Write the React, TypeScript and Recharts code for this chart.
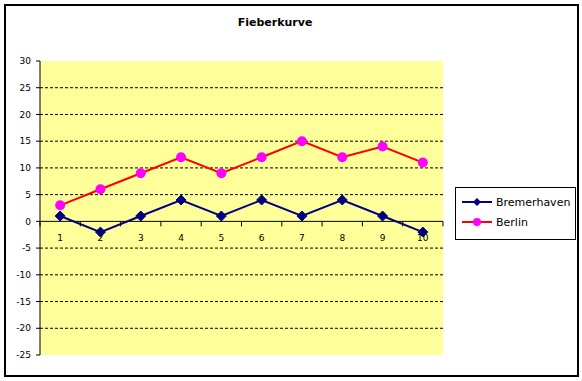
import React from "react";
import {
  LineChart,
  Line,
  XAxis,
  YAxis,
  CartesianGrid,
  ReferenceLine,
  Legend,
} from "recharts";

const categories = ["1", "2", "3", "4", "5", "6", "7", "8", "9", "10"];
const bremerhaven = [1, -2, 1, 4, 1, 4, 1, 4, 1, -2];
const berlin = [3, 6, 9, 12, 9, 12, 15, 12, 14, 11];
const yTicks = [-25, -20, -15, -10, -5, 0, 5, 10, 15, 20, 25, 30];
const gridValues = [-20, -15, -10, -5, 5, 10, 15, 20, 25];

const data = categories.map((c, i) => ({
  name: c,
  Bremerhaven: bremerhaven[i],
  Berlin: berlin[i],
}));

const W = 582;
const H = 381;
const M = { top: 61, right: 139, bottom: 0, left: 0 };
const X_AXIS_H = 26;
const Y_MIN = -25;
const Y_MAX = 30;
const plotH = H - M.top - M.bottom - X_AXIS_H;
// distance from bottom of plot to the value-0 line, where Excel puts the category axis
const zeroLift = ((0 - Y_MIN) / (Y_MAX - Y_MIN)) * plotH;

const font = "'DejaVu Sans', Verdana, sans-serif";

function XTick(props: any) {
  const { x, y, payload, index } = props;
  const half = payload.offset || 0;
  const zy = y - zeroLift;
  return (
    <g>
      <line x1={x - half} x2={x - half} y1={zy} y2={zy + 5} stroke="#000" />
      {index === categories.length - 1 && (
        <line x1={x + half} x2={x + half} y1={zy} y2={zy + 5} stroke="#000" />
      )}
      <text
        x={x}
        y={zy + 20}
        textAnchor="middle"
        fontSize={9}
        fontFamily={font}
        fill="#000"
      >
        {payload.value}
      </text>
    </g>
  );
}

function Diamond(props: any) {
  const { cx, cy, index } = props;
  return (
    <path
      key={`d${index}`}
      d={`M${cx},${cy - 5}L${cx + 5},${cy}L${cx},${cy + 5}L${cx - 5},${cy}Z`}
      fill="#000080"
      stroke="#000080"
    />
  );
}

function Dot(props: any) {
  const { cx, cy, index } = props;
  return <circle key={`c${index}`} cx={cx} cy={cy} r={5} fill="#FF00FF" />;
}

function LegendBox() {
  const rows = [
    { name: "Bremerhaven", color: "#000080", marker: "diamond" },
    { name: "Berlin", color: "#FF0000", marker: "circle" },
  ];
  return (
    <div
      style={{
        border: "1px solid #000",
        background: "#fff",
        width: 119,
        height: 47,
        boxSizing: "content-box",
        paddingTop: 4,
      }}
    >
      {rows.map((r) => (
        <div
          key={r.name}
          style={{ display: "flex", alignItems: "center", height: 20 }}
        >
          <svg width={36} height={12} style={{ marginLeft: 4 }}>
            <line x1={2} x2={32} y1={6} y2={6} stroke={r.color} strokeWidth={2} />
            {r.marker === "diamond" ? (
              <path d="M17,2L21,6L17,10L13,6Z" fill="#000080" />
            ) : (
              <circle cx={17} cy={6} r={4} fill="#FF00FF" />
            )}
          </svg>
          <span style={{ fontFamily: font, fontSize: 11, color: "#000" }}>
            {r.name}
          </span>
        </div>
      ))}
    </div>
  );
}

export default function App() {
  return (
    <div
      style={{
        position: "absolute",
        left: 0,
        top: 0,
        width: W,
        height: H,
        background: "#fff",
      }}
    >
      <div
        style={{
          position: "absolute",
          left: 4,
          top: 4,
          width: 571,
          height: 369,
          border: "2px solid #000",
        }}
      />
      <div
        style={{
          position: "absolute",
          left: 0,
          width: 550,
          top: 16,
          textAlign: "center",
          fontFamily: font,
          fontSize: 11,
          fontWeight: "bold",
        }}
      >
        Fieberkurve
      </div>
      <div style={{ position: "absolute", left: 0, top: 0 }}>
        <LineChart width={W} height={H} data={data} margin={M}>
          <CartesianGrid
            fill="#FFFF99"
            stroke="none"
            horizontal={false}
            vertical={false}
          />
          {gridValues.map((v) => (
            <ReferenceLine
              key={v}
              y={v}
              stroke="#000"
              strokeDasharray="3 2"
            />
          ))}
          <ReferenceLine y={0} stroke="#000" />
          <XAxis
            dataKey="name"
            scale="band"
            height={X_AXIS_H}
            axisLine={false}
            tickLine={false}
            tickSize={0}
            tickMargin={0}
            interval={0}
            tick={<XTick />}
          />
          <YAxis
            width={40}
            domain={[Y_MIN, Y_MAX]}
            ticks={yTicks}
            interval={0}
            axisLine={{ stroke: "#000" }}
            tickLine={{ stroke: "#000" }}
            tickSize={4}
            tickMargin={5}
            tick={{ fontSize: 9, fontFamily: font, fill: "#000" }}
          />
          <Legend
            layout="vertical"
            align="center"
            verticalAlign="middle"
            content={<LegendBox />}
            wrapperStyle={{ left: 455, top: 187, width: 121, height: 53 }}
          />
          <Line
            dataKey="Bremerhaven"
            stroke="#000080"
            strokeWidth={2}
            dot={<Diamond />}
            isAnimationActive={false}
          />
          <Line
            dataKey="Berlin"
            stroke="#FF0000"
            strokeWidth={2}
            dot={<Dot />}
            isAnimationActive={false}
          />
        </LineChart>
      </div>
    </div>
  );
}
